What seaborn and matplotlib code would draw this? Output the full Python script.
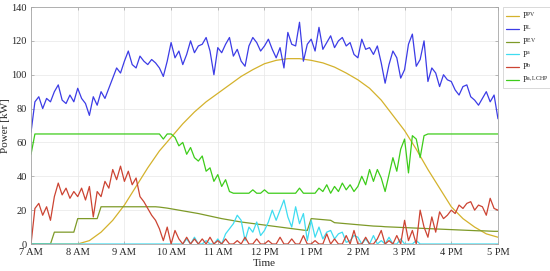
import numpy as np
import pandas as pd
import matplotlib
matplotlib.use('Agg')
import matplotlib.pyplot as plt
import seaborn as sns

# Datos, muestreo cada 5 min desde las 7:00 hasta las 17:00
p_load = [66, 84, 87, 80, 86, 84, 90, 94, 85, 83, 88, 84,
          92, 86, 83, 76, 87, 82, 90, 86, 92, 98, 104, 101,
          108, 114, 106, 104, 111, 108, 106, 109, 107, 104, 99, 108,
          119, 110, 114, 106, 112, 120, 113, 117, 118, 122, 114, 100,
          116, 113, 118, 122, 111, 115, 108, 105, 117, 122, 119, 114,
          117, 121, 115, 110, 116, 104, 125, 118, 117, 131, 108, 118,
          121, 114, 128, 115, 119, 123, 116, 120, 122, 117, 119, 112,
          110, 121, 115, 116, 112, 117, 107, 95, 106, 114, 110, 98,
          103, 118, 124, 105, 109, 120, 96, 104, 101, 93, 100, 97,
          96, 91, 88, 93, 94, 87, 85, 82, 86, 90, 84, 88,
          74]

p_lchp = [53, 65, 65, 65, 65, 65, 65, 65, 65, 65, 65, 65,
          65, 65, 65, 65, 65, 65, 65, 65, 65, 65, 65, 65,
          65, 65, 65, 65, 65, 65, 65, 65, 65, 65, 62, 65,
          65, 63, 58, 60, 53, 57, 51, 49, 52, 43, 45, 37,
          41, 34, 38, 31, 30, 30, 30, 30, 30, 32, 30, 30,
          32, 30, 30, 30, 30, 30, 30, 30, 30, 33, 30, 30,
          30, 30, 33, 31, 35, 30, 34, 31, 36, 32, 35, 31,
          34, 40, 35, 44, 37, 44, 39, 31, 41, 51, 43, 56,
          62, 42, 64, 62, 51, 64, 65, 65, 65, 65, 65, 65,
          65, 65, 65, 65, 65, 65, 65, 65, 65, 65, 65, 65,
          65]

p_ev = [0, 0, 0, 0, 0, 0, 7, 7, 7, 7, 7, 7,
        15, 15, 15, 15, 15, 15, 22, 22, 22, 22, 22, 22,
        22, 22, 22, 22, 22, 22, 22, 22, 22, 21.8, 21.5, 21.2,
        20.8, 20.4, 20, 19.6, 19.2, 18.8, 18.4, 18, 17.5, 17, 16.5, 16,
        15.5, 15, 14.6, 14.2, 13.8, 13.4, 13, 12.7, 12.4, 12.1, 11.8, 11.5,
        11.2, 10.9, 10.6, 10.3, 10, 9.7, 9.4, 9.1, 8.8, 8.5, 8.2, 8,
        15, 14.8, 14.6, 14.4, 14.2, 14, 12.6, 12.4, 12.2, 12, 11.8, 11.6,
        11.4, 11.2, 11, 10.8, 10.6, 10.5, 10.4, 10.2, 10.1, 10, 9.9, 9.8,
        9.7, 9.6, 9.5, 9.4, 9.3, 9.2, 9.1, 9, 8.9, 8.8, 8.7, 8.6,
        8.5, 8.4, 8.3, 8.2, 8.1, 8, 7.9, 7.8, 7.8, 7.7, 7.6, 7.5,
        7.5]

p_a = [0, 0, 0, 0, 0, 0, 0, 0, 0, 0, 0, 0,
       0, 0, 0, 0, 0, 0, 0, 0, 0, 0, 0, 0,
       0, 0, 0, 0, 0, 0, 0, 0, 0, 0, 0, 0,
       0, 0, 0, 0, 3, 0, 4, 0, 0, 2, 0, 0,
       3, 0, 6, 9, 12, 17, 14, 2, 10, 7, 13, 5,
       8, 13, 20, 14, 20, 26, 16, 10, 22, 12, 18, 2,
       14, 4, 10, 3, 7, 8, 3, 6, 7, 1, 2, 5,
       4, 0, 3, 0, 5, 0, 2, 0, 4, 0, 0, 3,
       0, 0, 0, 2, 0, 0, 0, 0, 0, 0, 0, 0,
       0, 0, 0, 0, 0, 0, 0, 0, 0, 0, 0, 0,
       0]

p_b = [0, 21, 24, 17, 22, 14, 28, 36, 29, 33, 27, 31,
       28, 33, 26, 34, 16, 31, 28, 37, 33, 44, 38, 46,
       37, 43, 35, 39, 28, 25, 21, 17, 14, 9, 2, 10,
       0, 8, 3, 0, 4, 0, 3, 0, 3, 0, 4, 0,
       2, 0, 3, 0, 0, 2, 0, 4, 0, 0, 3, 0,
       0, 2, 0, 0, 4, 0, 0, 3, 0, 0, 5, 0,
       0, 2, 0, 0, 6, 0, 3, 0, 0, 5, 0, 8,
       0, 0, 4, 0, 0, 3, 8, 0, 2, 0, 5, 0,
       14, 2, 8, 0, 20, 10, 4, 16, 7, 19, 15, 17,
       20, 18, 23, 21, 24, 25, 20, 23, 22, 17, 27, 21,
       20]

# Fotovoltaica, cada 15 min
p_pv = [0, 0, 0, 0, 0, 2, 7, 14, 23, 34, 45, 55,
        63, 71, 78, 84, 89, 94, 99, 103, 106.5, 108.5, 109.5, 109.5,
        108.5, 107, 104.5, 101, 97, 92, 85, 76, 67, 56, 44, 33,
        22, 15, 10, 6, 4]

hour_labels = ['7 AM', '8 AM', '9 AM', '10 AM', '11 AM', '12 PM',
               '1 PM', '2 PM', '3 PM', '4 PM', '5 PM']

t5 = np.arange(len(p_load)) * 5
t15 = np.arange(len(p_pv)) * 15

sns.set_style('ticks')
plt.rcParams['font.family'] = ['Liberation Serif', 'DejaVu Serif']
plt.rcParams['mathtext.fontset'] = 'custom'
plt.rcParams['mathtext.rm'] = 'Liberation Serif'
plt.rcParams['mathtext.it'] = 'Liberation Serif:italic'

fig = plt.figure(figsize=(5.5, 2.71), dpi=100)
ax = fig.add_axes([0.0564, 0.0996, 0.849, 0.8745])

lw = 0.9
sns.lineplot(x=t15, y=p_pv, ax=ax, color='#D4B22C', lw=lw, label=r'$\mathrm{P}^{\mathrm{PV}}$')
sns.lineplot(x=t5, y=p_load, ax=ax, color='#3C3CE6', lw=lw, label=r'$\mathrm{P}^{\mathrm{L}}$')
sns.lineplot(x=t5, y=p_ev, ax=ax, color='#7E9A28', lw=lw, label=r'$\mathrm{P}^{\mathrm{EV}}$')
sns.lineplot(x=t5, y=p_a, ax=ax, color='#3FDCF0', lw=lw, label=r'$\mathrm{P}^{\mathrm{a}}$')
sns.lineplot(x=t5, y=p_b, ax=ax, color='#CC4433', lw=lw, label=r'$\mathrm{P}^{\mathrm{b}}$')
sns.lineplot(x=t5, y=p_lchp, ax=ax, color='#3DCC1A', lw=lw, label=r'$\mathrm{P}^{\mathrm{a,LCHP}}$')

ax.set_xlim(0, 600)
ax.set_ylim(0, 140)
ax.set_xticks(np.arange(0, 601, 60))
ax.set_xticklabels(hour_labels)
ax.set_yticks(np.arange(0, 141, 20))
ax.grid(True, color='#e8e8e8', lw=0.5)
ax.tick_params(direction='in', length=2.5, width=0.5, top=True, right=True,
               labelsize=7.5, colors='#a0a0a0', labelcolor='#262626')
ax.tick_params(axis='x', pad=3)
ax.tick_params(axis='y', pad=3)
for s in ax.spines.values():
    s.set_color('#a6a6a6')
    s.set_linewidth(0.6)
ax.set_xlabel('Time', fontsize=8, labelpad=1, color='#262626')
ax.set_ylabel('Power [kW]', fontsize=8, labelpad=1, color='#262626')

leg = ax.legend(loc='upper left', bbox_to_anchor=(1.01, 1.0), borderaxespad=0,
                fontsize=6, frameon=True, fancybox=False, handlelength=1.6,
                handletextpad=0.3, labelspacing=0.22, borderpad=0.4)
leg.get_frame().set_edgecolor('#c8c8c8')
leg.get_frame().set_linewidth(0.6)

fig.savefig('out.png', dpi=100)
